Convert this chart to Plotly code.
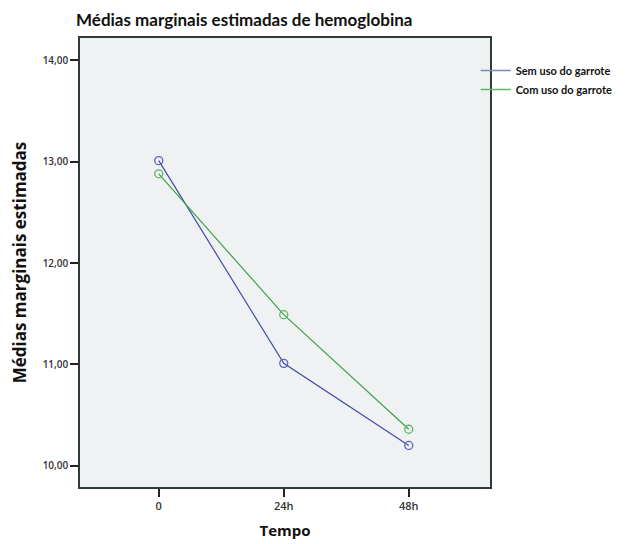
import plotly.graph_objects as go

categories = ["0", "24h", "48h"]
sem_uso = [13.01, 11.01, 10.20]
com_uso = [12.88, 11.49, 10.36]
y_ticks = [10, 11, 12, 13, 14]
y_ticklabels = ["10,00", "11,00", "12,00", "13,00", "14,00"]

xpos = list(range(len(categories)))
blue = "#3f4ea3"
green = "#3aa545"

fig = go.Figure()
fig.add_trace(go.Scatter(
    x=xpos, y=sem_uso, mode="lines+markers", name="Sem uso do garrote",
    line=dict(color=blue, width=1.2), showlegend=False,
    marker=dict(symbol="circle-open", size=8, color="#5a66b8", line=dict(width=1.3)),
))
fig.add_trace(go.Scatter(
    x=xpos, y=com_uso, mode="lines+markers", name="Com uso do garrote",
    line=dict(color=green, width=1.2), showlegend=False,
    marker=dict(symbol="circle-open", size=8, color="#5cb865", line=dict(width=1.3)),
))
# legend entries (line swatch only, as in the reference)
fig.add_trace(go.Scatter(x=[None], y=[None], mode="lines", name="Sem uso do garrote",
                         line=dict(color="#7a86c0", width=1.5)))
fig.add_trace(go.Scatter(x=[None], y=[None], mode="lines", name="Com uso do garrote",
                         line=dict(color="#5cb865", width=1.5)))

fig.update_layout(
    width=621, height=536,
    margin=dict(l=72, r=139, t=30, b=57, autoexpand=False),
    paper_bgcolor="white",
    plot_bgcolor="#f0f1f3",
    font=dict(family="Open Sans", color="#222222"),
    title=dict(text="Médias marginais estimadas de hemoglobina", x=68/621, xanchor="left",
               y=1 - 12/536, yanchor="middle",
               font=dict(family="Lato", size=17, color="#111111", weight="bold")),
    legend=dict(x=0.965, xanchor="left", y=0.96, yanchor="top",
                bgcolor="rgba(0,0,0,0)",
                font=dict(family="Lato", size=11, color="#111111", weight="bold"),
                tracegroupgap=0, itemwidth=30),
    showlegend=True,
)
fig.update_xaxes(
    range=[-0.63, 2.65], tickvals=xpos, ticktext=categories,
    showgrid=False, zeroline=False,
    showline=True, linecolor="#2e3a3a", linewidth=1.5, mirror=True,
    ticks="outside", ticklen=8, tickcolor="#222", tickwidth=1.5,
    tickfont=dict(size=11, color="#333", weight=600),
    title=dict(text="<b>Tempo</b>", font=dict(size=15, color="#111"), standoff=14),
)
fig.update_yaxes(
    range=[9.79, 14.22], tickvals=y_ticks, ticktext=y_ticklabels,
    showgrid=False, zeroline=False,
    showline=True, linecolor="#2e3a3a", linewidth=1.5, mirror=True,
    ticks="outside", ticklen=8, tickcolor="#222", tickwidth=1.5,
    tickfont=dict(size=10, color="#333", weight=600),
    title=dict(text="<b>Médias marginais estimadas</b>", font=dict(size=17, color="#111"), standoff=12),
)

fig.write_html("out.html")
